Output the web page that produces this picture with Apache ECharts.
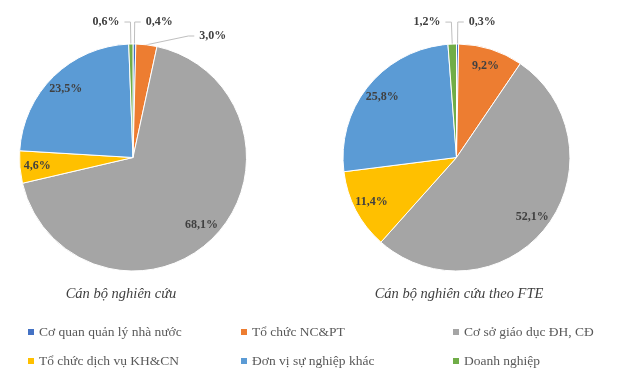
<!DOCTYPE html>
<html><head><meta charset="utf-8">
<script src="https://cdn.jsdelivr.net/npm/echarts@6/dist/echarts.min.js"></script>
<style>html,body{margin:0;padding:0;background:#fff}#c{width:617px;height:378px}</style>
</head><body><div id="c"></div>
<script>
const categories = ['Cơ quan quản lý nhà nước','Tổ chức NC&PT','Cơ sở giáo dục ĐH, CĐ','Tổ chức dịch vụ KH&CN','Đơn vị sự nghiệp khác','Doanh nghiệp'];
const leftValues = [0.4, 3.0, 68.1, 4.6, 23.5, 0.6];
const rightValues = [0.3, 9.2, 52.1, 11.4, 25.8, 1.2];
const titles = ['Cán bộ nghiên cứu', 'Cán bộ nghiên cứu theo FTE'];
const colors = ['#4472C4','#ED7D31','#A5A5A5','#FFC000','#5B9BD5','#70AD47'];

const FONT = 'Liberation Serif';
const fmt = v => v.toFixed(1).replace('.', ',') + '%';
const LIMIT = 4;
const labelText = { fontFamily: FONT, fontWeight: 'bold', fontSize: 12, color: '#404040' };

function mainSeries(values, cx) {
  return {
    type: 'pie', center: [cx, 157.5], radius: 113.5, startAngle: 90, clockwise: true,
    silent: true, animation: false, avoidLabelOverlap: true,
    data: values.map((v, i) => ({
      name: categories[i], value: v,
      itemStyle: { color: colors[i], borderColor: '#fff', borderWidth: 1 },
      label: v < LIMIT ? Object.assign({ show: true, position: 'outside', formatter: fmt(v) }, labelText) : { show: false },
      labelLine: v < LIMIT ? { show: true, length: 22, length2: 6, lineStyle: { color: '#BFBFBF', width: 1 } } : { show: false }
    }))
  };
}
function labelSeries(values, cx) {
  return {
    type: 'pie', center: [cx, 157.5], radius: [80, 106], startAngle: 90, clockwise: true,
    silent: true, animation: false,
    data: values.map((v, i) => ({
      name: categories[i], value: v,
      itemStyle: { color: 'rgba(0,0,0,0)' },
      label: v >= LIMIT ? Object.assign({ show: true, position: 'inside', formatter: fmt(v) }, labelText) : { show: false },
      labelLine: { show: false }
    }))
  };
}
const legendBase = {
  orient: 'vertical', itemWidth: 6, itemHeight: 6, icon: 'rect', itemGap: 15, padding: 0,
  selectedMode: false,
  itemStyle: { borderWidth: 0 },
  textStyle: { fontFamily: FONT, fontSize: 13.5, color: '#595959' }
};
const titleStyle = { fontFamily: FONT, fontStyle: 'italic', fontWeight: 'normal', fontSize: 14.5, color: '#404040' };
const chart = echarts.init(document.getElementById('c'));
chart.setOption({
  backgroundColor: '#fff',
  textStyle: { fontFamily: FONT },
  title: [
    { text: titles[0], left: 121, top: 287, padding: 0, textAlign: 'center', textStyle: titleStyle },
    { text: titles[1], left: 459, top: 287, padding: 0, textAlign: 'center', textStyle: titleStyle }
  ],
  legend: [
    Object.assign({}, legendBase, { left: 28, top: 325, data: [categories[0], categories[3]] }),
    Object.assign({}, legendBase, { left: 241, top: 325, data: [categories[1], categories[4]] }),
    Object.assign({}, legendBase, { left: 453, top: 325, data: [categories[2], categories[5]] })
  ],
  series: [
    mainSeries(leftValues, 133), mainSeries(rightValues, 456.5),
    labelSeries(leftValues, 133), labelSeries(rightValues, 456.5)
  ]
});
</script></body></html>
